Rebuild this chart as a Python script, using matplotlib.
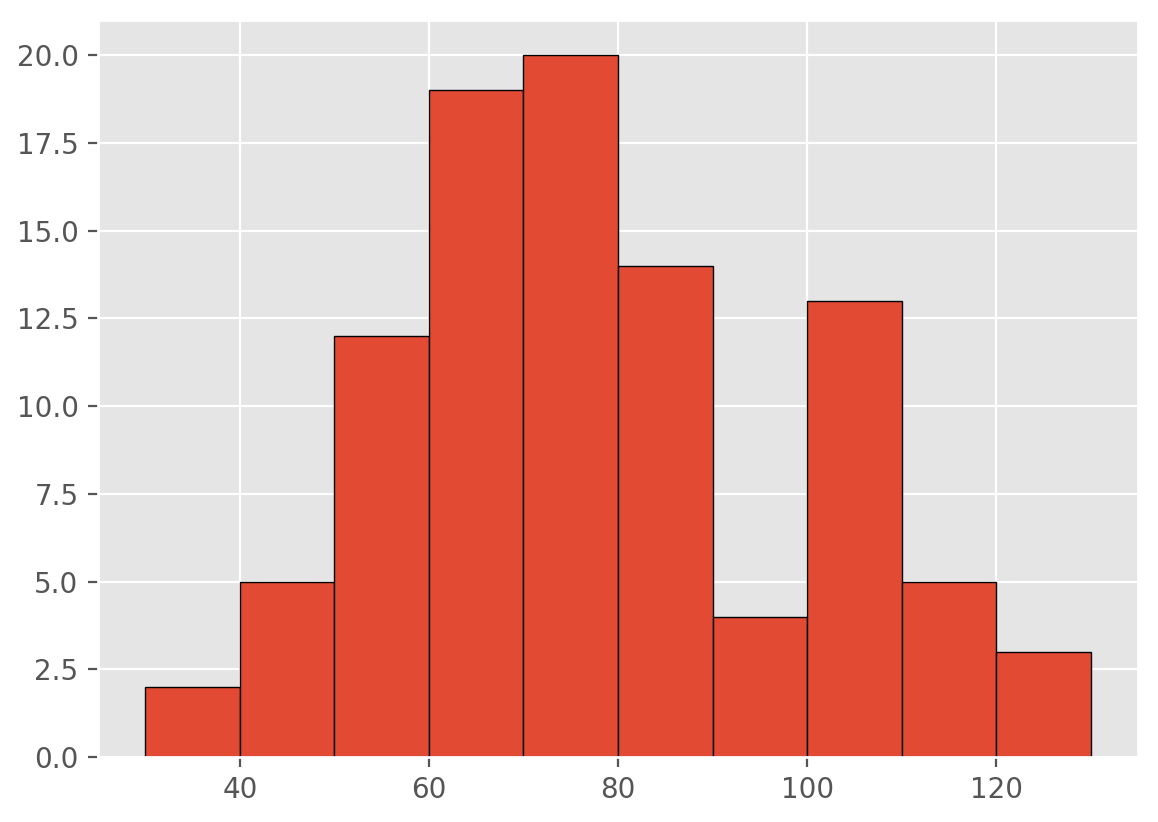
import matplotlib
matplotlib.use("Agg")
import matplotlib.pyplot as plt
import numpy as np

plt.style.use("ggplot")

bin_edges = [30, 40, 50, 60, 70, 80, 90, 100, 110, 120, 130]
counts = [2, 5, 12, 19, 20, 14, 4, 13, 5, 3]

fig = plt.figure(figsize=(5.79, 4.11), dpi=200)
ax = fig.add_axes([98/1158, 1-757/822, (1138-98)/1158, (757-20)/822])
ax.hist(bin_edges[:-1], bins=bin_edges, weights=counts, edgecolor="black", linewidth=0.5)
fig.savefig("out.png", dpi=200)
